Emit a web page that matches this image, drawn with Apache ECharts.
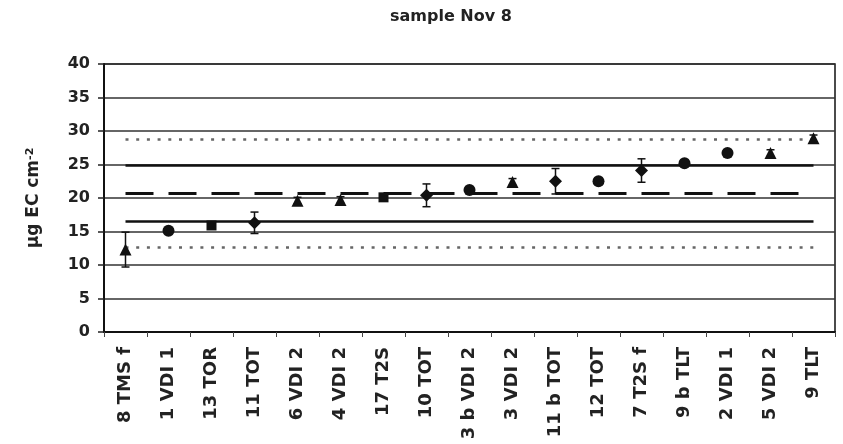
<!DOCTYPE html>
<html>
<head>
<meta charset="utf-8">
<script src="https://cdn.jsdelivr.net/npm/echarts@6/dist/echarts.min.js"></script>
<style>
html, body { margin: 0; padding: 0; background: #fff; }
#chart { width: 843px; height: 444px; }
</style>
</head>
<body>
<div id="chart"></div>
<script>
var samples = ['8 TMS f', '1 VDI 1', '13 TOR', '11 TOT', '6 VDI 2', '4 VDI 2', '17 T2S', '10 TOT', '3 b VDI 2',
	'3 VDI 2', '11 b TOT', '12 TOT', '7 T2S f', '9 b TLT', '2 VDI 1', '5 VDI 2', '9 TLT'];
var values = [12.3, 15.1, 15.9, 16.3, 19.6, 19.7, 20.1, 20.4, 21.2, 22.4, 22.5, 22.5, 24.1, 25.2, 26.7, 26.7, 28.9];
var errors = [2.6, 0, 0, 1.6, 0.5, 0.5, 0.5, 1.7, 0, 0.5, 1.9, 0, 1.75, 0, 0, 0.5, 0.5];
var shapes = ['triangle', 'circle', 'rect', 'diamond', 'triangle', 'triangle', 'rect', 'diamond', 'circle',
	'triangle', 'diamond', 'circle', 'diamond', 'circle', 'circle', 'triangle', 'triangle'];
var meanLine = 20.7;
var innerLines = [16.6, 24.9];
var outerLines = [12.6, 28.8];

var FONT = 'DejaVu Sans';
var symbolSize = { triangle: 12, circle: 12, rect: 10, diamond: 13 };

function refLine(v, style) {
	return [{ coord: [samples[0], v], lineStyle: style }, { coord: [samples[samples.length - 1], v] }];
}

let mychart = echarts.init(document.getElementById('chart'));

let option = {
	backgroundColor: '#fff',
	animation: false,
	title: {
		text: 'sample Nov 8',
		left: 385,
		top: 4,
		textStyle: { fontFamily: FONT, fontSize: 16, fontWeight: 'bold', color: '#222' }
	},
	grid: {
		left: 104,
		right: 8,
		top: 64,
		bottom: 112,
		show: true,
		borderColor: '#111',
		borderWidth: 1.5
	},
	xAxis: {
		type: 'category',
		data: samples,
		boundaryGap: true,
		axisLine: { show: true, lineStyle: { color: '#111', width: 2 } },
		axisTick: { show: true, length: 5, lineStyle: { color: '#444' } },
		axisLabel: {
			rotate: 90,
			interval: 0,
			margin: 15,
			fontFamily: FONT,
			fontSize: 18,
			fontWeight: 'bold',
			color: '#222'
		},
		splitLine: { show: false }
	},
	yAxis: {
		type: 'value',
		min: 0,
		max: 40,
		interval: 5,
		name: '{a|µg EC cm}{b|-2}',
		nameLocation: 'middle',
		nameGap: 62,
		nameTextStyle: {
			rich: {
				a: { fontFamily: FONT, fontSize: 17, fontWeight: 'bold', color: '#222' },
				b: { fontFamily: FONT, fontSize: 11, fontWeight: 'bold', color: '#222', verticalAlign: 'top' }
			}
		},
		axisLine: { show: true, lineStyle: { color: '#111', width: 2 } },
		axisTick: { show: true, length: 6, lineStyle: { color: '#222', width: 1.5 } },
		axisLabel: {
			margin: 14,
			fontFamily: FONT,
			fontSize: 16,
			fontWeight: 'bold',
			color: '#222'
		},
		splitLine: { show: true, lineStyle: { color: '#333', width: 1.5 } }
	},
	series: [{
			type: 'custom',
			z: 3,
			silent: true,
			data: samples.map(function(s, i) { return [i, values[i], errors[i]]; }),
			encode: { x: 0, y: 1 },
			renderItem: function(params, api) {
				var i = api.value(0), v = api.value(1), e = api.value(2);
				if (!e) return null;
				var top = api.coord([i, v + e]);
				var bot = api.coord([i, v - e]);
				var c = 4;
				var st = { stroke: '#111', lineWidth: 1.5 };
				return {
					type: 'group',
					children: [
						{ type: 'line', shape: { x1: top[0], y1: top[1], x2: bot[0], y2: bot[1] }, style: st },
						{ type: 'line', shape: { x1: top[0] - c, y1: top[1], x2: top[0] + c, y2: top[1] }, style: st },
						{ type: 'line', shape: { x1: bot[0] - c, y1: bot[1], x2: bot[0] + c, y2: bot[1] }, style: st }
					]
				};
			},
			markLine: {
				silent: true,
				symbol: 'none',
				label: { show: false },
				data: [
					refLine(meanLine, { color: '#111', width: 3, type: [28, 15] }),
					refLine(innerLines[0], { color: '#111', width: 2.5, type: 'solid' }),
					refLine(innerLines[1], { color: '#111', width: 2.5, type: 'solid' }),
					refLine(outerLines[0], { color: '#666', width: 2.5, type: [3, 7.7] }),
					refLine(outerLines[1], { color: '#666', width: 2.5, type: [3, 7.7] })
				]
			}
		},
		{
			type: 'scatter',
			z: 5,
			data: values.map(function(v, i) {
				return { value: [samples[i], v], symbol: shapes[i], symbolSize: symbolSize[shapes[i]] };
			}),
			itemStyle: { color: '#111', opacity: 1 }
		}
	]
};

mychart.setOption(option);
</script>
</body>
</html>
